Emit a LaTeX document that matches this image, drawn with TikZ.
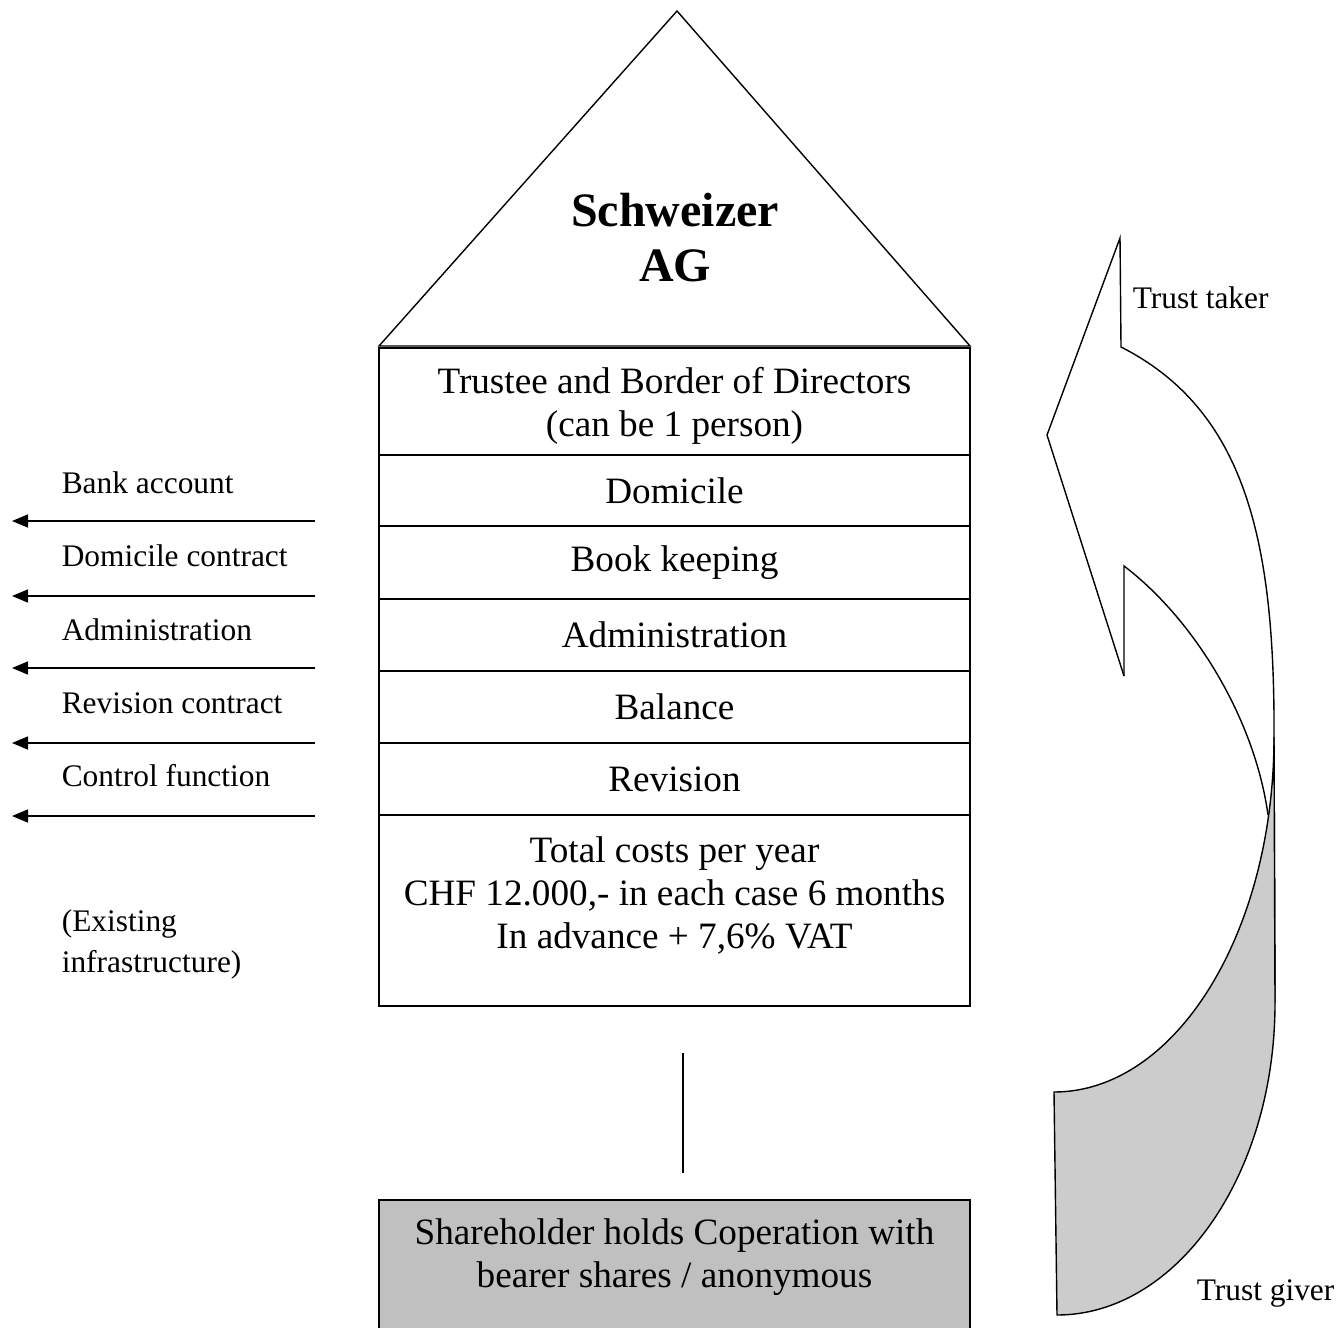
\documentclass[tikz,border=0pt]{standalone}
\usepackage{fontspec}
\setmainfont{Liberation Serif}
\usetikzlibrary{arrows.meta,positioning}

\definecolor{holdergray}{RGB}{192,192,192}
\definecolor{backgray}{RGB}{204,204,204}

\begin{document}
\begin{tikzpicture}[%
    x=0.5pt, y=-0.5pt,
    >={Triangle[length=8pt,width=6.5pt]},
    line width=0.8pt,
    node distance=0pt,
    row/.style={draw, minimum width=295.5pt, inner sep=0pt, outer sep=0pt, align=center,
        font=\fontsize{18.6}{21.5}\selectfont},
    side/.style={anchor=west, inner sep=0pt, align=left,
        font=\fontsize{15.7}{20.5}\selectfont}
    ]
    \useasboundingbox (0,0) rectangle (1343,1327);

    \draw[line width=0.7pt] (379,346) -- (677,11) -- (970,346) -- cycle;
    \node[font=\fontsize{24}{27.5}\selectfont\bfseries, align=center] (name) at (675,238) {Schweizer\\AG};

    \node[row, minimum height=53.5pt, anchor=north] (trustee) at (674.5,348) {Trustee and Border of Directors\\(can be 1 person)\\[-28pt] \strut};
    \node[row, minimum height=35.5pt] (domicile) [below=of trustee] {Domicile};
    \node[row, minimum height=36.5pt] (books) [below=of domicile] {Book keeping};
    \node[row, minimum height=36pt] (admin) [below=of books] {Administration};
    \node[row, minimum height=36pt] (balance) [below=of admin] {Balance};
    \node[row, minimum height=36pt] (revision) [below=of balance] {Revision};
    \node[row, minimum height=95.5pt] (costs) [below=of revision] {Total costs per year\\CHF 12.000,- in each case 6 months\\In advance + 7,6\% VAT\\[-10pt] \strut};

    \node[row, fill=holdergray, minimum height=81pt, anchor=north] (holder) at (674.5,1200) {Shareholder holds Coperation with\\bearer shares / anonymous\\ \strut};

    \coordinate (linktop) at (683,1053);
    \coordinate (linkbot) at (683,1173);
    \draw[line width=0.7pt] (linktop) -- (linkbot);

    \node[side] (bank) at (61,483) {Bank account};
    \node[side] (domcontract) at (61,556) {Domicile contract};
    \node[side] (adminleft) at (61,630) {Administration};
    \node[side] (revcontract) at (61,703) {Revision contract};
    \node[side] (control) at (61,776) {Control function};
    \node[side] (infra) at (61,944) {(Existing\\infrastructure)};

    \coordinate (bank-e) at (315,521);
    \coordinate (bank-w) at (12,521);
    \coordinate (domcontract-e) at (315,596);
    \coordinate (domcontract-w) at (12,596);
    \coordinate (adminleft-e) at (315,668);
    \coordinate (adminleft-w) at (12,668);
    \coordinate (revcontract-e) at (315,743);
    \coordinate (revcontract-w) at (12,743);
    \coordinate (control-e) at (315,816);
    \coordinate (control-w) at (12,816);

    \path[->] (bank-e) edge (bank-w);
    \path[->] (domcontract-e) edge (domcontract-w);
    \path[->] (adminleft-e) edge (adminleft-w);
    \path[->] (revcontract-e) edge (revcontract-w);
    \path[->] (control-e) edge (control-w);

    \node[side] (taker) at (1132,298) {Trust taker};
    \node[side] (giver) at (1196,1293) {Trust giver};

    \coordinate (tip) at (1120,238);
    \coordinate (notcha) at (1121,347);
    \coordinate (outer) at (1274,737);
    \coordinate (cross) at (1268,815);
    \coordinate (notchb) at (1124,566);
    \coordinate (notchc) at (1124,676);
    \coordinate (wing) at (1047,435);
    \coordinate (backa) at (1054,1092);
    \coordinate (backb) at (1275,1003);
    \coordinate (backc) at (1057,1315);

    \draw[line width=0.7pt] (notchc) -- (wing) -- (tip) -- (notcha) .. controls (1245,410) and (1275,540) .. (outer) -- (backb);
    \draw[line width=0.7pt] (notchc) -- (notchb) .. controls (1195,620) and (1255,720) .. (cross);
    \draw[line width=0.7pt, fill=backgray] (backa) .. controls (1175.5,1092) and (1274,933) .. (outer) -- (backb) .. controls (1275,1175) and (1177,1315) .. (backc) -- cycle;

\end{tikzpicture}
\end{document}
